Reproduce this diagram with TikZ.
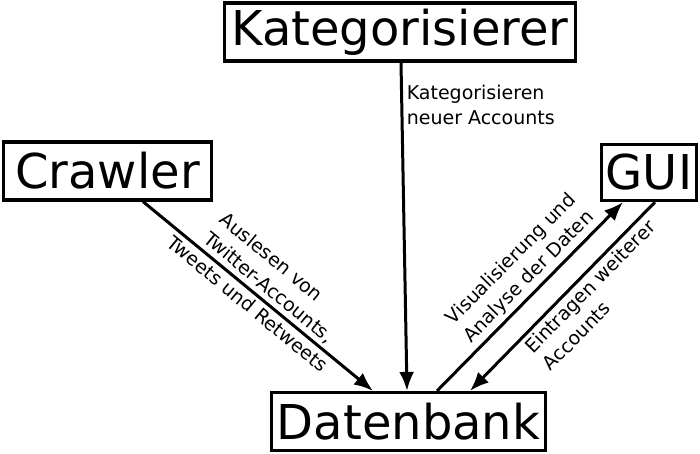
\documentclass[tikz,border=0pt]{standalone}
\usepackage{fontspec}
\setmainfont{DejaVu Sans}
\usetikzlibrary{arrows.meta,calc,positioning}
\tikzset{%
	block/.style = {draw, rectangle, line width=3.2pt, inner sep=0pt, minimum height=58pt, font=\fontsize{48}{58}\selectfont},
	arrow/.style = {line width=3pt, -{Latex[length=19pt,width=15pt]}},
	lbl/.style   = {font=\fontsize{19}{25}\selectfont, inner sep=3.5pt},
}
\begin{document}
\begin{tikzpicture}[x=1pt,y=-1pt]
		\useasboundingbox (0,0) rectangle (700,454);
		\node[block, minimum width=351pt] (kat) at (400,32) {Kategorisierer};
		\node[block, minimum width=208pt] (crawler) at (107.5,171) {Crawler};
		\node[block, minimum width=95pt, minimum height=56pt] (gui) at (649,172.5) {GUI};
		\node[block, minimum width=274pt] (db) at (408.5,421.5) {Datenbank};
		\draw[arrow] ($(kat.south)+(1,0)$) -- node[lbl, right, align=left, pos=0.13] {Kategorisieren\\neuer Accounts} ($(db.north)+(-1.5,0)$);
		\draw[arrow] ($(crawler.south)+(35.5,0)$) -- node[lbl, sloped, above, align=left, pos=0.51] {Auslesen von\\Twitter-Accounts,} node[lbl, sloped, below, pos=0.49] {Tweets und Retweets} ($(db.north)+(-35.5,0)$);
		\draw[arrow] ($(db.north)+(28.5,0)$) -- node[lbl, sloped, above, align=center, pos=0.55] {Visualisierung und\\Analyse der Daten} ($(gui.south)+(-26,0)$);
		\draw[arrow] ($(gui.south)+(6,0)$) -- node[lbl, sloped, below, align=left, pos=0.4] {Eintragen weiterer\\Accounts} ($(db.north)+(61.5,0)$);
	\end{tikzpicture}
\end{document}
